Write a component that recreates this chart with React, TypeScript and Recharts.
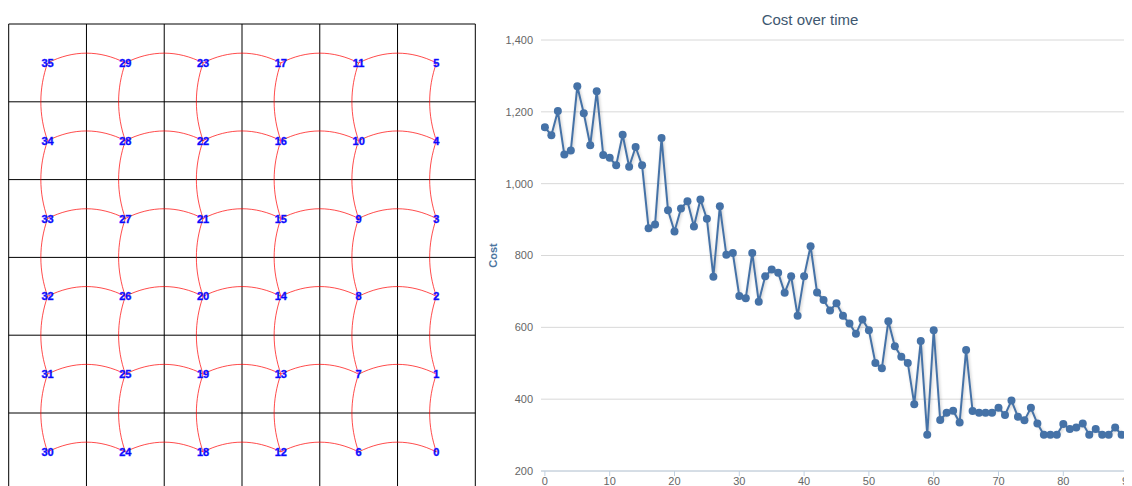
import React from 'react';
import { ComposedChart, LineChart, Line, Scatter, XAxis, YAxis, CartesianGrid } from 'recharts';

// Node labels of the grid, top row first, left column first
const nodeRows: number[][] = [
  [35, 29, 23, 17, 11, 5],
  [34, 28, 22, 16, 10, 4],
  [33, 27, 21, 15, 9, 3],
  [32, 26, 20, 14, 8, 2],
  [31, 25, 19, 13, 7, 1],
  [30, 24, 18, 12, 6, 0],
];
const gridTicks = [0, 1, 2, 3, 4, 5, 6];

// Cost per iteration
const costs = [
  1157, 1135, 1202, 1081, 1092, 1271, 1196, 1107, 1257, 1080,
  1072, 1051, 1136, 1047, 1102, 1051, 876, 886, 1127, 926,
  867, 931, 951, 881, 956, 902, 741, 937, 802, 807,
  687, 681, 807, 671, 742, 761, 752, 696, 742, 632,
  742, 826, 697, 676, 647, 667, 632, 611, 582, 622,
  592, 501, 486, 617, 547, 518, 501, 386, 562, 301,
  592, 342, 362, 368, 335, 537, 367, 362, 362, 362,
  376, 356, 396, 351, 341, 376, 332, 301, 301, 301,
  331, 317, 321, 332, 301, 317, 301, 301, 321, 301,
  301,
];
const xTicks = [0, 10, 20, 30, 40, 50, 60, 70, 80, 90];
const yTicks = [200, 400, 600, 800, 1000, 1200, 1400];

const nRows = nodeRows.length;
const nodes = nodeRows.flatMap((row, r) => row.map((id, c) => ({ x: c + 0.5, y: nRows - r - 0.5, id })));
const rowSeries = nodeRows.map((row, r) => row.map((_id, c) => ({ x: c + 0.5, y: nRows - r - 0.5 })));
const colSeries = nodeRows[0].map((_id, c) => nodeRows.map((_row, r) => ({ x: c + 0.5, y: nRows - r - 0.5 })));
const costData = costs.map((cost, i) => ({ iter: i, cost }));

function bowCurve(ox: number, oy: number) {
  return (context: any) => {
    let px = 0, py = 0, n = 0;
    return {
      areaStart() {},
      areaEnd() {},
      lineStart() { n = 0; },
      lineEnd() {},
      point(x: number, y: number) {
        x = +x; y = +y;
        if (n === 0) context.moveTo(x, y);
        else context.bezierCurveTo(
          px + (x - px) / 3 + ox, py + (y - py) / 3 + oy,
          px + (2 * (x - px)) / 3 + ox, py + (2 * (y - py)) / 3 + oy,
          x, y);
        px = x; py = y; n++;
      },
    };
  };
}
const hBow = bowCurve(0, -13);
const vBow = bowCurve(-9, 0);

const renderNode = (props: any) => {
  const { cx, cy, payload } = props;
  return (
    <text x={cx} y={cy} textAnchor="middle" dominantBaseline="central"
      fill="#0000ff" stroke="#2a2aff" strokeWidth={0.4}
      fontSize={11} fontWeight="bold" fontFamily='"Liberation Sans", Arial, sans-serif'>
      {payload.id}
    </text>
  );
};

const font = '"Liberation Sans", Arial, Helvetica, sans-serif';

export default function App() {
  return (
    <div style={{ position: 'relative', width: 1124, height: 478, overflow: 'hidden', fontFamily: font }}>
      <style>{`.cost-line .recharts-line-curve { filter: drop-shadow(1px 1px 1.5px rgba(0,0,0,0.22)); }`}</style>
      <div style={{ position: 'absolute', left: 0, top: 0 }}>
        <ComposedChart width={470} height={490} margin={{ top: 16, right: 2.7, bottom: 7.2, left: 0.7 }}>
          <XAxis type="number" dataKey="x" domain={[0, 6]} ticks={gridTicks} hide />
          <YAxis type="number" dataKey="y" domain={[0, 6]} ticks={gridTicks} hide />
          <CartesianGrid stroke="#000" strokeWidth={1} />
          {rowSeries.map((d, i) => (
            <Line key={'r' + i} data={d} dataKey="y" type={hBow as any} stroke="#ff0000" strokeOpacity={0.7}
              strokeWidth={1} dot={false} activeDot={false} isAnimationActive={false} />
          ))}
          {colSeries.map((d, i) => (
            <Line key={'c' + i} data={d} dataKey="y" type={vBow as any} stroke="#ff0000" strokeOpacity={0.7}
              strokeWidth={1} dot={false} activeDot={false} isAnimationActive={false} />
          ))}
          <Scatter data={nodes} dataKey="y" shape={renderNode} isAnimationActive={false} />
        </ComposedChart>
      </div>
      <div style={{ position: 'absolute', left: 480, top: 4, width: 644, textAlign: 'center', fontSize: 15, lineHeight: '15px', color: '#3E576F', fontFamily: font }}>
        Cost over time
      </div>
      <div style={{ position: 'absolute', left: 480, top: 0 }}>
        <LineChart width={644} height={478} data={costData} margin={{ top: 32, right: 0, bottom: 0, left: 0 }}>
          <CartesianGrid vertical={false} stroke="#d8d8d8" strokeWidth={1} />
          <XAxis type="number" dataKey="iter" domain={[-0.6, 90.6]} ticks={xTicks} allowDataOverflow interval={0}
            height={15} tickSize={5} tickMargin={1}
            axisLine={{ stroke: '#C0D0E0' }} tickLine={{ stroke: '#C0D0E0' }}
            tick={{ fill: '#666666', fontSize: 11, fontFamily: font }} />
          <YAxis type="number" domain={[200, 1400]} ticks={yTicks} width={53} axisLine={false} tickLine={false}
            tickFormatter={(v: number) => v.toLocaleString('en-US')}
            tick={{ fill: '#666666', fontSize: 11, fontFamily: font }}
            label={{ value: 'Cost', angle: -90, position: 'insideLeft', offset: 5.5,
              style: { textAnchor: 'middle', fill: '#4d759e', fontWeight: 'bold', fontSize: 11, fontFamily: font } }} />
          <Line className="cost-line" type="linear" dataKey="cost" stroke="#4572A7" strokeWidth={2}
            dot={{ r: 4, fill: '#4572A7', stroke: 'none' }} activeDot={false} isAnimationActive={false} />
        </LineChart>
      </div>
    </div>
  );
}
